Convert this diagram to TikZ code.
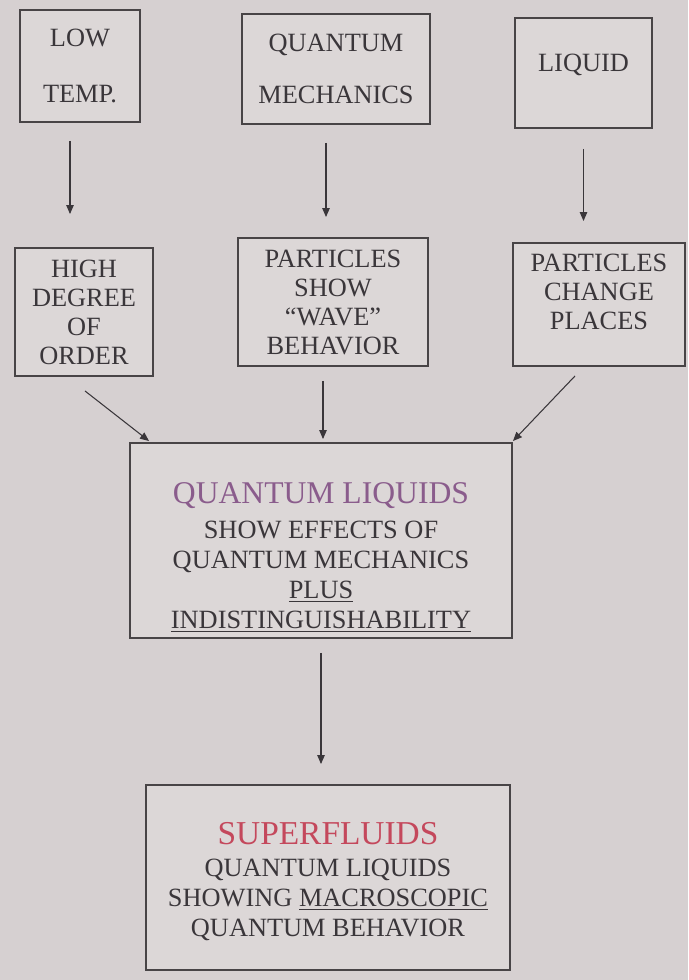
\documentclass[tikz,border=0pt]{standalone}
\usepackage{fontspec}
\setmainfont{Liberation Serif}
\usetikzlibrary{arrows.meta,positioning}
\definecolor{wall}{RGB}{214,208,209}
\definecolor{card}{RGB}{220,215,215}
\definecolor{boxline}{RGB}{72,68,70}
\definecolor{ink}{RGB}{58,54,58}
\definecolor{qlpurple}{RGB}{138,92,140}
\definecolor{sfred}{RGB}{196,72,92}

\begin{document}
\begin{tikzpicture}[x=0.2mm,y=-0.2mm,
  box/.style={draw=boxline,line width=1.1pt,fill=card,text=ink,align=center,
    inner sep=2pt,font=\fontsize{15}{16.5}\selectfont},
  bigbox/.style={box,font=\fontsize{15}{17}\selectfont},
  arrow/.style={-{Triangle[length=1.8mm,width=1.5mm]},line width=0.6pt,draw=ink}
]
\fill[wall] (0,0) rectangle (688,980);
\useasboundingbox (0,0) rectangle (688,980);

\node[box,minimum width=24mm,minimum height=22.4mm] (low) at (80,66)
  {LOW\\[15pt]TEMP.};
\node[box,minimum width=37.6mm,minimum height=22mm] (qm) at (336,69)
  {QUANTUM\\[13pt]MECHANICS};
\node[box,minimum width=27.4mm,minimum height=22mm,text depth=4mm] (liq) at (583.5,73)
  {LIQUID};

\node[box,minimum width=27.6mm,minimum height=25.6mm] (high) at (84,312)
  {HIGH\\DEGREE\\OF\\ORDER};
\node[box,minimum width=38mm,minimum height=25.6mm] (wave) at (333,302)
  {PARTICLES\\SHOW\\``WAVE''\\BEHAVIOR};
\node[box,minimum width=34.4mm,minimum height=24.6mm,text depth=5mm] (change) at (599,304.5)
  {PARTICLES\\CHANGE\\PLACES};

\node[bigbox,minimum width=76.4mm,minimum height=39mm,text height=35.2mm,text depth=0pt]
  (ql) at (321,540.5)
  {\fontsize{18}{20}\selectfont\color{qlpurple}QUANTUM LIQUIDS\\[3pt]
   SHOW EFFECTS OF\\QUANTUM MECHANICS\\\underline{PLUS}\\
   \underline{INDISTINGUISHABILITY}};
\node[bigbox,minimum width=72.8mm,minimum height=37mm,text height=23.4mm,text depth=0pt]
  (sf) at (328,877.5)
  {\fontsize{19}{21}\selectfont\color{sfred}SUPERFLUIDS\\[1pt]
   QUANTUM LIQUIDS\\SHOWING \underline{MACROSCOPIC}\\QUANTUM BEHAVIOR};

\draw[arrow,shorten <=3.6mm,shorten >=6.6mm]
  ([xshift=-2mm]low.south) -- ([xshift=-2mm]low.south |- high.north);
\draw[arrow,shorten <=3.6mm,shorten >=4mm]
  ([xshift=-2mm]qm.south) -- ([xshift=-2mm]qm.south |- wave.north);
\draw[arrow,shorten <=4mm,shorten >=4.2mm]
  (liq.south) -- (liq.south |- change.north);

\draw[arrow] ([shift={(1,14)}]high.south) -- ([shift={(20,-1)}]ql.north west);
\draw[arrow,shorten <=2.8mm,shorten >=0.6mm]
  ([xshift=-2mm]wave.south) -- ([xshift=-2mm]wave.south |- ql.north);
\draw[arrow] ([shift={(-24,9)}]change.south) -- ([shift={(0,-1)}]ql.north east);

\draw[arrow,shorten <=2.8mm,shorten >=4mm]
  (ql.south) -- (ql.south |- sf.north);
\end{tikzpicture}
\end{document}
